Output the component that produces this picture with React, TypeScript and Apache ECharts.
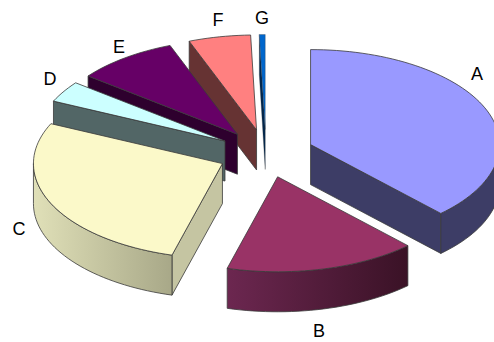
import React, { useEffect, useRef } from "react";
import * as echarts from "echarts";

const categories = ["A", "B", "C", "D", "E", "F", "G"];
const values = [37.9, 16.4, 27.6, 3.6, 8.7, 5.3, 0.5];

const topColors = ["#9999ff", "#993366", "#fbf9c9", "#ccffff", "#660066", "#ff8080", "#0066cc"];
const wallColors = ["#3d3d66", "#3d1429", "#c5c5a2", "#526666", "#2e002e", "#663333", "#00264d"];
const rimFrom = ["#3d3d66", "#6c2750", "#e0e0b8", "#526666", "#2e002e", "#663333", "#00264d"];
const rimTo = ["#3d3d66", "#3a1226", "#a8a888", "#526666", "#2e002e", "#663333", "#00264d"];
const labelX = [477, 319, 19, 50, 119, 218, 262];
const labelY = [74, 331, 229, 79, 47, 20, 18];

const CX = 266;
const CY = 153.5;
const RX = 189;
const RY = 95;
const EXPLODE = 48;
const DEPTH = 40;

const total = values.reduce((s, v) => s + v, 0);
const startAngles: number[] = [];
values.reduce((acc, v, i) => {
  startAngles[i] = acc;
  return acc + (v / total) * 360;
}, 0);

const rad = (d: number) => (d * Math.PI) / 180;
const onEllipse = (ax: number, ay: number, deg: number): [number, number] => [
  ax + RX * Math.sin(rad(deg)),
  ay - RY * Math.cos(rad(deg)),
];
const arcPoints = (ax: number, ay: number, a0: number, a1: number) => {
  const n = Math.max(2, Math.ceil(Math.abs(a1 - a0) / 2));
  const pts: [number, number][] = [];
  for (let i = 0; i <= n; i++) pts.push(onEllipse(ax, ay, a0 + ((a1 - a0) * i) / n));
  return pts;
};

const STROKE = "#3a3a3a";

function renderItem(params: any, api: any) {
  const i = api.value(0);
  const s = startAngles[i];
  const e = s + (values[i] / total) * 360;
  const mid = (s + e) / 2;
  const ax = CX + EXPLODE * Math.sin(rad(mid));
  const ay = CY - EXPLODE * 0.5 * Math.cos(rad(mid));
  const down = (p: [number, number]): [number, number] => [p[0], p[1] + DEPTH];
  const children: any[] = [];
  const lw = values[i] < 1 ? 0.3 : 0.8;

  const wall = (deg: number) => {
    const r = onEllipse(ax, ay, deg);
    children.push({
      type: "polygon",
      shape: { points: [[ax, ay], r, down(r), [ax, ay + DEPTH]] },
      style: { fill: wallColors[i], stroke: STROKE, lineWidth: lw },
    });
  };
  if (Math.sin(rad(s)) < 0) wall(s);
  if (Math.sin(rad(e)) > 0.01) wall(e);

  const r0 = Math.max(s, 90);
  const r1 = Math.min(e, 270);
  if (r1 > r0) {
    const top = arcPoints(ax, ay, r0, r1);
    children.push({
      type: "polygon",
      shape: { points: [...top, ...top.slice().reverse().map(down)] },
      style: {
        fill: new echarts.graphic.LinearGradient(0, 0, 1, 0, [
          { offset: 0, color: rimFrom[i] },
          { offset: 1, color: rimTo[i] },
        ]),
        stroke: STROKE,
        lineWidth: lw,
      },
    });
  }

  children.push({
    type: "polygon",
    shape: { points: [[ax, ay], ...arcPoints(ax, ay, s, e)] },
    style: { fill: topColors[i], stroke: STROKE, lineWidth: lw },
  });

  children.push({
    type: "text",
    style: {
      text: categories[i],
      x: labelX[i],
      y: labelY[i],
      fill: "#000000",
      font: '18px "Liberation Sans", Arial, sans-serif',
      align: "center",
      verticalAlign: "middle",
    },
  });

  return { type: "group", children };
}

export default function App() {
  const ref = useRef<HTMLDivElement>(null);
  useEffect(() => {
    document.body.style.margin = "0";
    const chart = echarts.init(ref.current!, undefined, { renderer: "svg" });
    chart.setOption({
      animation: false,
      backgroundColor: "#ffffff",
      series: [
        {
          type: "custom",
          coordinateSystem: "none",
          silent: true,
          renderItem,
          clip: false,
          // Back-to-front painting order: G first, A last
          data: categories.map((name, i) => ({ name, value: [i, values[i]] })).reverse(),
        },
      ],
    });
    return () => chart.dispose();
  }, []);
  return <div ref={ref} style={{ width: 494, height: 342 }} />;
}
